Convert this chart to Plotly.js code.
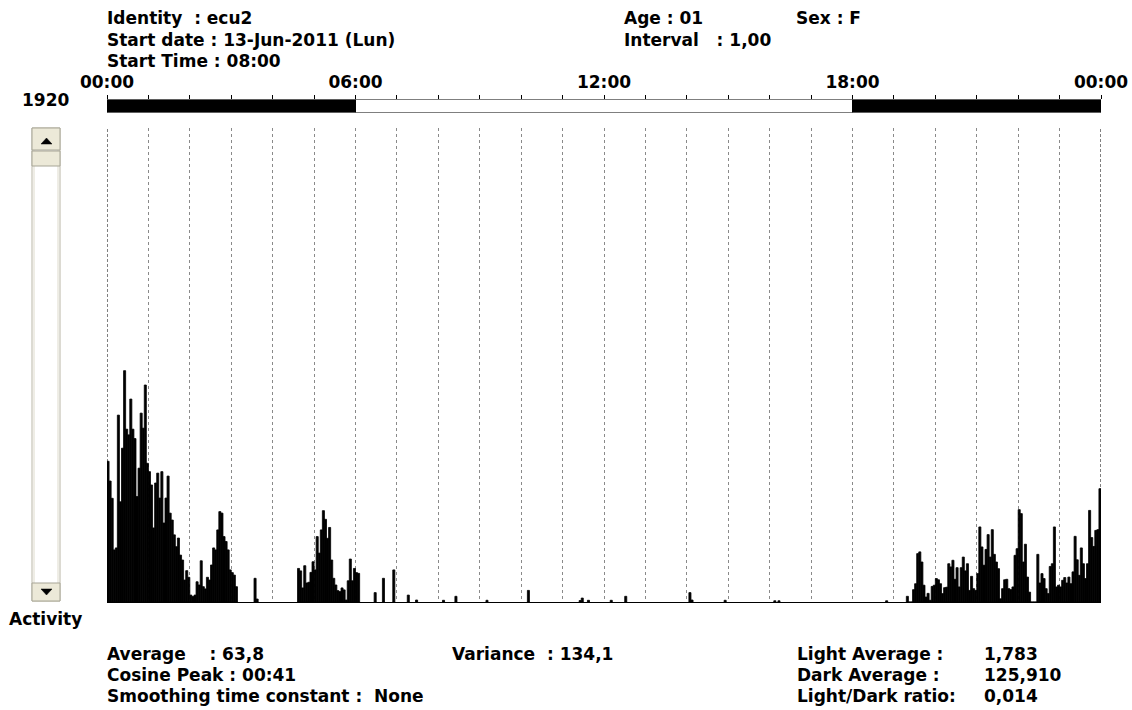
<!DOCTYPE html>
<html>
<head>
<meta charset="utf-8">
<script src="https://cdn.plot.ly/plotly-3.0.1.min.js"></script>
<style>
html,body{margin:0;padding:0;background:#fff;}
#chart{width:1132px;height:710px;}
</style>
</head>
<body>
<div id="chart"></div>
<script>
// ---- data (activity counts, 3-minute bins, minutes after 00:00) ----
const binMinutes = 3;
const earlyNightStart = 0;
const earlyNightCounts = [570,490,420,211,219,757,406,623,937,700,677,822,700,662,427,542,765,704,879,562,
  528,474,300,482,522,421,528,320,421,510,360,332,272,224,259,190,170,89,127,100,
  28,22,28,82,69,167,62,53,100,89,150,219,211,292,366,360,265,245,211,130,119,109,62];
const dawnStart = 213;
const dawnCounts = [96,12];
const morningStart = 276;
const morningCounts = [136,126,57,147,77,80,120,163,130,265,198,292,370,335,258,302,170,96,69,46,
  42,57,49,8,86,174,86,136,119,116];
const daySpikeMinutes = [387,399,414,435,447,486,504,549,609,684,687,696,729,750,843,846,894,966,972,1128];
const daySpikeCounts  = [38,96,130,28,8,7,23,7,47,6,16,7,7,23,38,8,7,5,5,5];
const eveningStart = 1158;
const eveningCounts = [23,0,0,50,74,196,203,162,68,20,35,7,63,68,95,90,74,34,58,60,
  155,142,169,92,139,61,139,182,126,155,47,104,54,47,115,304,223,149,213,273,
  182,293,193,162,135,13,54,90,92,54,50,61,189,216,374,358,162,234,101,40,
  0,0,0,193,77,115,95,54,34,144,155,304,61,68,61,88,99,77,101,74,
  122,266,171,108,219,155,95,155,371,261,225,290,293,459];

const hourTicks = [0,1,2,3,4,5,6,7,8,9,10,11,12,13,14,15,16,17,18,19,20,21,22,23,24];
const hourLabels = {0:'00:00',6:'06:00',12:'12:00',18:'18:00',24:'00:00'};
const phaseNames = ['dark','light','dark'];
const phaseStart = [0,6,18];
const phaseEnd = [6,18,24];
const yMax = 1920;

// ---- build series ----
const xs = [], ys = [];
function addSegment(start, counts){
  counts.forEach((c,i)=>{ xs.push((start + i*binMinutes + binMinutes/2)/60); ys.push(c); });
}
addSegment(earlyNightStart, earlyNightCounts);
addSegment(dawnStart, dawnCounts);
addSegment(morningStart, morningCounts);
daySpikeMinutes.forEach((m,i)=>{ xs.push((m + binMinutes/2)/60); ys.push(daySpikeCounts[i]); });
addSegment(eveningStart, eveningCounts);

const W = 1132, H = 710;
const px = x => x/W, py = y => 1 - y/H;

const activity = {
  type:'bar', x: xs, y: ys, width: binMinutes/60,
  marker:{color:'#000', line:{color:'#000', width:0.8}},
  xaxis:'x', yaxis:'y', hoverinfo:'skip'
};
const phases = {
  type:'bar',
  x: phaseStart.map((s,i)=>(s+phaseEnd[i])/2),
  y: phaseStart.map(()=>1),
  width: phaseStart.map((s,i)=>phaseEnd[i]-s),
  marker:{color: phaseNames.map(n=> n==='dark' ? '#000' : '#fff'), line:{color:'#000', width:1}},
  xaxis:'x2', yaxis:'y2', hoverinfo:'skip', cliponaxis:false
};

const FAM = 'DejaVu Sans, Verdana, sans-serif';
const hdr = {family:FAM, size:17, color:'#000', weight:'bold'};
const bot = {family:FAM, size:17, color:'#000', weight:'bold'};
function txt(x,y,t,font,anchor){
  return {xref:'paper', yref:'paper', x:px(x), y:py(y), text:t, showarrow:false,
    xanchor:anchor||'left', yanchor:'middle', font:font, borderpad:0};
}
const annotations = [
  txt(106,18,'Identity  : ecu2',hdr),
  txt(106,39.5,'Start date : 13-Jun-2011 (Lun)',hdr),
  txt(106,61,'Start Time : 08:00',hdr),
  txt(623,18,'Age : 01',hdr),
  txt(795,18,'Sex : F',hdr),
  txt(623,39.5,'Interval   : 1,00',hdr),
  txt(70,100,'1920',hdr,'right'),
  txt(45,619,'Activity',hdr,'center'),
  txt(106,654,'Average    : 63,8',bot),
  txt(106,675,'Cosine Peak : 00:41',bot),
  txt(106,696,'Smoothing time constant :  None',bot),
  txt(451,654,'Variance  : 134,1',bot),
  txt(796,654,'Light Average :',bot),
  txt(796,675,'Dark Average :',bot),
  txt(796,696,'Light/Dark ratio:',bot),
  txt(983,654,'1,783',bot),
  txt(983,675,'125,910',bot),
  txt(983,696,'0,014',bot)
];

function rect(x0,y0,x1,y1,fill,lineCol){
  return {type:'rect', xref:'paper', yref:'paper', x0:px(x0), x1:px(x1), y0:py(y1), y1:py(y0),
    fillcolor:fill, line:{color:lineCol||fill, width:1}, layer:'above'};
}
function tri(pts){
  const d = 'M ' + pts.map(p=>px(p[0])+' '+py(p[1])).join(' L ') + ' Z';
  return {type:'path', xref:'paper', yref:'paper', path:d, fillcolor:'#000', line:{color:'#000', width:0.5}, layer:'above'};
}
const face = '#ECE9D8';
const shapes = [
  rect(32,128,60,601,'#fff','#b9b6a6'),
  rect(34,128,58,601,'#fff','#dedbcc'),
  rect(32,128,60,150,face,'#a7a596'),
  tri([[41,144],[52,144],[46.5,138]]),
  rect(32,151,60,166,face,'#a7a596'),
  rect(32,583,60,601,face,'#a7a596'),
  tri([[41,589],[52,589],[46.5,595]]),
  {type:'line', xref:'x', yref:'paper', x0:hourTicks[0], x1:hourTicks[0], y0:py(602), y1:py(128), line:{color:'#000', width:1, dash:'3px,2px'}},
  {type:'line', xref:'x', yref:'paper', x0:hourTicks[hourTicks.length-1], x1:hourTicks[hourTicks.length-1], y0:py(602), y1:py(128), line:{color:'#000', width:1, dash:'3px,2px'}}
];

const layout = {
  width:W, height:H, margin:{l:0,r:0,t:0,b:0},
  paper_bgcolor:'#fff', plot_bgcolor:'#fff', showlegend:false, bargap:0,
  xaxis:{domain:[px(107),px(1101)], range:[0,24], anchor:'y', tickvals:hourTicks, showticklabels:false, ticks:'',
    showgrid:true, gridcolor:'#8a8a8a', gridwidth:1, griddash:'3px,3px', zeroline:false,
    showline:true, linecolor:'#000', linewidth:1, fixedrange:true},
  yaxis:{domain:[py(602),py(128)], range:[0,yMax], anchor:'x', showticklabels:false, ticks:'', showgrid:false,
    zeroline:false, showline:false, fixedrange:true},
  xaxis2:{domain:[px(107),px(1101)], range:[0,24], anchor:'y2', side:'top',
    tickvals:hourTicks, ticktext:hourTicks.map(h=>hourLabels[h]||''),
    ticks:'outside', ticklen:4, tickcolor:'#000', tickwidth:1,
    tickfont:{family:FAM, size:17, color:'#000', weight:'bold'},
    showgrid:false, zeroline:false, showline:false, fixedrange:true},
  yaxis2:{domain:[py(112.5),py(99.5)], range:[0,1], anchor:'x2', visible:false, fixedrange:true},
  annotations: annotations,
  shapes: shapes
};

Plotly.newPlot('chart', [activity, phases], layout, {staticPlot:true, displayModeBar:false});
</script>
</body>
</html>
